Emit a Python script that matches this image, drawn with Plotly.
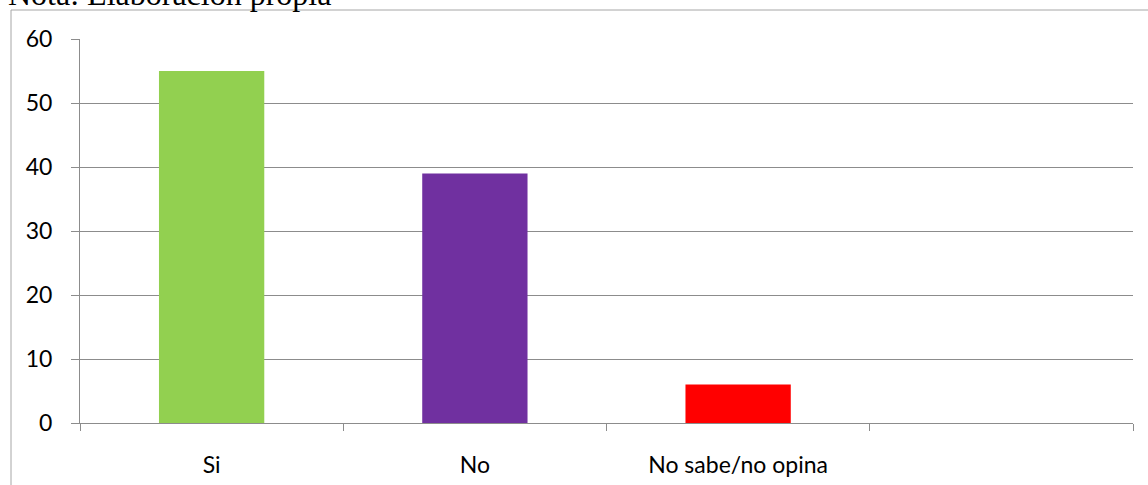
import plotly.graph_objects as go

categories = ["Si", "No", "No sabe/no opina"]
values = [55, 39, 6]
colors = ["#92D050", "#7030A0", "#FF0000"]
n_slots = 4  # the axis has four category slots; the last is empty
y_ticks = [0, 10, 20, 30, 40, 50, 60]

W, H = 1148, 485
# plot area in screen pixels
sx0, sx1, sy0, sy1 = 80, 1133, 39, 423
ml, mt = sx0, sy0
pw, ph = sx1 - sx0, sy1 - sy0
mr = W - ml - pw
mb = H - mt - ph

def px_to_paper_x(px):
    return (px - sx0) / pw

def px_to_paper_y(py):
    return 1 + (sy0 - py) / ph

xpos = [i + 0.5 for i in range(len(categories))]

fig = go.Figure()
fig.add_trace(go.Bar(
    x=xpos, y=values, width=0.4,
    marker=dict(color=colors, line=dict(width=0)),
    hoverinfo="skip",
))

grid = "#8c8c8c"
fig.update_layout(
    width=W, height=H, autosize=False,
    margin=dict(l=ml, r=mr, t=mt, b=mb, autoexpand=False),
    paper_bgcolor="white", plot_bgcolor="white",
    showlegend=False,
    font=dict(family="Lato, Carlito, Calibri, sans-serif", size=23, color="#000000"),
    xaxis=dict(
        range=[0, n_slots], automargin=False,
        tickvals=xpos, ticktext=categories,
        ticks="", showgrid=False, zeroline=False,
        showline=True, linecolor=grid, linewidth=1,
        ticklabelstandoff=21,
        minor=dict(tick0=0, dtick=1, ticks="outside", ticklen=7,
                   tickcolor=grid, tickwidth=1, showgrid=False),
    ),
    yaxis=dict(
        range=[0, 60], tickvals=y_ticks, automargin=False,
        showgrid=True, gridcolor=grid, gridwidth=1,
        zeroline=False, showline=True, linecolor=grid, linewidth=1,
        ticks="outside", ticklen=8, tickcolor=grid,
        ticklabelstandoff=14,
    ),
)

fig.add_shape(type="rect", xref="paper", yref="paper",
              x0=px_to_paper_x(11), y0=px_to_paper_y(520),
              x1=px_to_paper_x(1200), y1=px_to_paper_y(10),
              line=dict(color="#a6a6a6", width=1), fillcolor="rgba(0,0,0,0)",
              layer="below")

fig.add_annotation(text="Nota: Elaboración propia", xref="paper", yref="paper",
                   x=px_to_paper_x(6), y=px_to_paper_y(14),
                   xanchor="left", yanchor="bottom", showarrow=False,
                   font=dict(family="Liberation Serif, Times New Roman, serif", size=32, color="#000000"))

fig.write_html("out.html",
               config={"displayModeBar": False, "responsive": False},
               post_script="document.body.style.margin='0';document.body.style.overflow='hidden';")
